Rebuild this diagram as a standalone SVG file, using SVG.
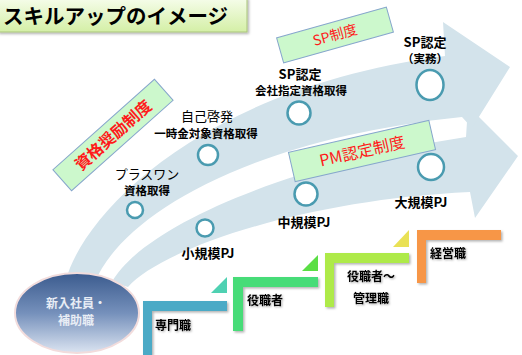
<svg xmlns="http://www.w3.org/2000/svg" width="522" height="355" viewBox="0 0 522 355">
<defs>
<linearGradient id="titleGrad" x1="0" y1="0" x2="0" y2="1">
<stop offset="0" stop-color="#f6fdeb"/>
<stop offset="1" stop-color="#d4efa6"/>
</linearGradient>
<linearGradient id="ellGrad" x1="0" y1="0" x2="0" y2="1">
<stop offset="0" stop-color="#3b5b8e"/>
<stop offset="0.5" stop-color="#7590bb"/>
<stop offset="1" stop-color="#dbe4f1"/>
</linearGradient>
<filter id="shadow" x="-10%" y="-10%" width="130%" height="130%">
<feDropShadow dx="1.5" dy="1.5" stdDeviation="1" flood-color="#000" flood-opacity="0.3"/>
</filter>
<filter id="tshadow" x="-10%" y="-20%" width="130%" height="150%">
<feDropShadow dx="1" dy="1" stdDeviation="0.8" flood-color="#000" flood-opacity="0.35"/>
</filter>
</defs>
<style>
text { font-family: "Noto Sans CJK JP", "Noto Sans", sans-serif; fill: #000; }
.arrow { fill: #d3e3eb; }
.ms { fill: #fff; stroke: #4a9bb0; stroke-width: 2.5; }
.lbl { font-size: 13px; text-anchor: middle; }
.sub { font-size: 11.5px; text-anchor: middle; font-weight: bold; }
.b { font-weight: bold; }
.sys rect { fill: #ccf8cc; stroke: #86a6cc; stroke-width: 1; }
.sys text { fill: #ff1a1a; text-anchor: middle; }
.step { filter: url(#shadow); }
.stxt { font-size: 12px; font-weight: bold; filter: url(#tshadow); }
</style>

<g id="growth-arrows">
<path class="arrow" d="M112,282 C140,230 280,165 466,137 L468,106 L518,156 L475,218 L470,192 C300,200 160,250 128,287 Z"/>
<path class="arrow" d="M66,280 C83,215 200,88 445,56 L443,22 L510,67 L472,128 L462,117 C240,140 120,220 95,282 Z"/>
</g>

<g id="title">
<rect x="-2" y="-2" width="249" height="34" fill="url(#titleGrad)" stroke="#a8c47a" stroke-width="1" filter="url(#shadow)"/>
<text x="3" y="24" font-size="20.5" font-weight="bold">スキルアップのイメージ</text>
</g>

<g id="system-shikaku" class="sys" transform="translate(113,135) rotate(-41.7)">
<rect x="-68" y="-14" width="136" height="28"/>
<text x="0" y="6" font-size="16" font-weight="bold">資格奨励制度</text>
</g>

<g id="system-sp" class="sys" transform="translate(335,35) rotate(-15.7)">
<rect x="-57" y="-13" width="114" height="26"/>
<text x="0" y="5" font-size="14">SP制度</text>
</g>

<g id="system-pm" class="sys" transform="translate(362,151) rotate(-12.9)">
<rect x="-72" y="-15" width="144" height="30"/>
<text x="0" y="6" font-size="16">PM認定制度</text>
</g>

<g id="node-start">
<ellipse cx="77" cy="313" rx="62" ry="40" fill="url(#ellGrad)" stroke="#f2dcdc" stroke-width="2"/>
<text x="76" y="308" font-size="12" font-weight="bold" text-anchor="middle" style="fill:#e8edf5">新入社員・</text>
<text x="76" y="325" font-size="12" font-weight="bold" text-anchor="middle" style="fill:#e8edf5">補助職</text>
</g>

<g id="node-plusone">
<circle class="ms" cx="135" cy="210" r="8"/>
<text class="lbl" x="147" y="179">プラスワン</text>
<text class="sub" x="147" y="195">資格取得</text>
</g>

<g id="node-jikokeihatsu">
<circle class="ms" cx="208" cy="155" r="10"/>
<text class="lbl" x="207" y="121" font-size="14">自己啓発</text>
<text class="sub" x="206" y="138">一時金対象資格取得</text>
</g>

<g id="node-sp-company">
<circle class="ms" cx="299" cy="113" r="11.5"/>
<text class="lbl b" x="300" y="79">SP認定</text>
<text class="sub" x="301" y="95">会社指定資格取得</text>
</g>

<g id="node-sp-work">
<ellipse class="ms" cx="430" cy="85" rx="13.5" ry="15"/>
<text class="lbl b" x="425" y="47">SP認定</text>
<text class="sub" x="425" y="63">（実務）</text>
</g>

<g id="node-small-pj">
<circle class="ms" cx="205" cy="228" r="8.5"/>
<text class="lbl b" x="208" y="258">小規模PJ</text>
</g>

<g id="node-mid-pj">
<circle class="ms" cx="306" cy="194" r="11.5"/>
<text class="lbl b" x="304" y="227">中規模PJ</text>
</g>

<g id="node-large-pj">
<circle class="ms" cx="431" cy="167" r="13"/>
<text class="lbl b" x="421" y="207">大規模PJ</text>
</g>

<g id="step-senmon">
<polygon points="227,277 227,293 211,293" fill="#4fd1b2"/>
<path class="step" d="M143,355 V301 H227 V311 H152 V355 Z" fill="#4baac6"/>
<text class="stxt" x="155" y="330">専門職</text>
</g>

<g id="step-yakushoku">
<polygon points="318,255 318,271 302,271" fill="#5ade45"/>
<path class="step" d="M233,331 V277 H318 V287 H243 V331 Z" fill="#47dc78"/>
<text class="stxt" x="247" y="305">役職者</text>
</g>

<g id="step-kanri">
<polygon points="409,230 409,247 393,247" fill="#e9e155"/>
<path class="step" d="M325,307 V253 H409 V263 H334 V307 Z" fill="#aeea4a"/>
<text class="stxt" x="371" y="281" text-anchor="middle">役職者～</text>
<text class="stxt" x="371" y="303" text-anchor="middle">管理職</text>
</g>

<g id="step-keiei">
<path class="step" d="M417,283 V230 H501 V240 H426 V283 Z" fill="#f79646"/>
<text class="stxt" x="430" y="258">経営職</text>
</g>
</svg>
